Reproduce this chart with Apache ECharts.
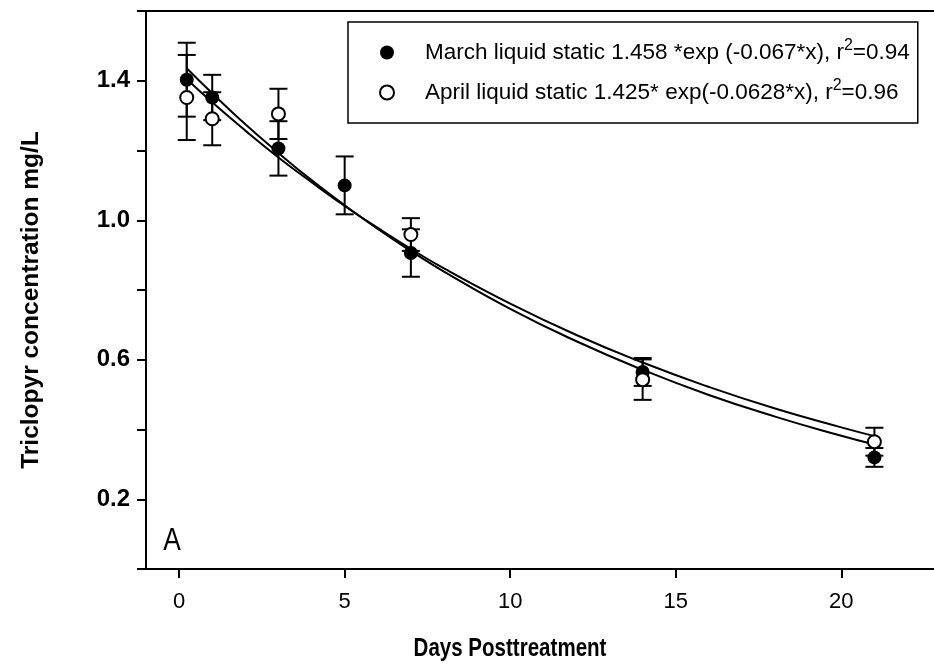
<!DOCTYPE html>
<html>
<head>
<meta charset="utf-8">
<script src="https://cdn.jsdelivr.net/npm/echarts@6/dist/echarts.min.js"></script>
<style>
  html, body { margin: 0; padding: 0; background: #fff; }
  #chart { width: 934px; height: 664px; }
</style>
</head>
<body>
<div id="chart"></div>
<script>
// ---- data ----
const marchDays = [0.23, 1, 3, 5, 7, 14, 21];
const marchConc = [1.403, 1.352, 1.206, 1.100, 0.906, 0.565, 0.320];
const marchErr  = [0.106, 0.065, 0.078, 0.083, 0.068, 0.040, 0.027];

const aprilDays = [0.23, 1, 3, 7, 14, 21];
const aprilConc = [1.352, 1.291, 1.305, 0.959, 0.543, 0.365];
const aprilErr  = [0.122, 0.076, 0.072, 0.047, 0.058, 0.040];

// fitted curves
const fitDays  = [0.23, 1, 2, 3, 4, 5, 6, 7, 8, 10, 12, 14, 16, 18, 20, 21];
const marchFit = [1.436, 1.364, 1.275, 1.193, 1.115, 1.043, 0.975, 0.912, 0.853, 0.746, 0.653, 0.571, 0.499, 0.437, 0.382, 0.357];
const aprilFit = [1.405, 1.338, 1.257, 1.180, 1.109, 1.041, 0.978, 0.918, 0.862, 0.761, 0.671, 0.592, 0.522, 0.460, 0.406, 0.381];

const xTicks = [0, 5, 10, 15, 20];
const yLabelTicks = [0.2, 0.6, 1.0, 1.4];

const marchName = 'March liquid static 1.458 *exp (-0.067*x), r2=0.94';
const aprilName = 'April liquid static 1.425* exp(-0.0628*x), r2=0.96';

const zip = (xs, ys, es) => xs.map((x, i) => es ? [x, ys[i], es[i]] : [x, ys[i]]);

function errRender(params, api) {
  const x = api.value(0), y = api.value(1), e = api.value(2);
  const top = api.coord([x, y + e]);
  const bot = api.coord([x, y - e]);
  const hw = 9;
  const st = { stroke: '#000', lineWidth: 2 };
  return {
    type: 'group',
    children: [
      { type: 'line', shape: { x1: top[0], y1: top[1], x2: bot[0], y2: bot[1] }, style: st },
      { type: 'line', shape: { x1: top[0] - hw, y1: top[1], x2: top[0] + hw, y2: top[1] }, style: st },
      { type: 'line', shape: { x1: bot[0] - hw, y1: bot[1], x2: bot[0] + hw, y2: bot[1] }, style: st }
    ]
  };
}

const legendFmt = (name) => {
  const idx = name.lastIndexOf('r2=');
  return '{g|}{t|' + name.slice(0, idx) + 'r}{s|2}{t|' + name.slice(idx + 2) + '}';
};

const chart = echarts.init(document.getElementById('chart'), null, { renderer: 'canvas' });
chart.setOption({
  animation: false,
  backgroundColor: '#fff',
  grid: { left: 146, right: 0, top: 11, bottom: 95 },
  legend: {
    orient: 'vertical',
    left: 348,
    top: 22,
    padding: [16, 8, 19, 31],
    itemGap: 14,
    itemWidth: 14,
    itemHeight: 14,
    borderColor: '#000',
    borderWidth: 1.5,
    data: [marchName, aprilName],
    formatter: legendFmt,
    textStyle: {
      color: '#000',
      rich: {
        g: { width: 26 },
        t: { fontFamily: 'Liberation Sans, Arial', fontSize: 22.5, color: '#000' },
        s: { fontFamily: 'Liberation Sans, Arial', fontSize: 16, color: '#000', padding: [0, 0, 13, 0] }
      }
    }
  },
  xAxis: [{
    type: 'value',
    min: -1,
    max: 22.8,
    axisLine: { show: true, onZero: false, lineStyle: { color: '#000', width: 2 } },
    splitLine: { show: false },
    axisTick: { show: true, customValues: xTicks, length: 9, inside: false, lineStyle: { color: '#000', width: 2 } },
    axisLabel: {
      customValues: xTicks,
      margin: 22,
      color: '#000',
      fontFamily: 'Liberation Sans, Arial',
      fontSize: 22
    }
  }, {
    type: 'value',
    position: 'top',
    min: -1,
    max: 22.8,
    axisLine: { show: true, onZero: false, lineStyle: { color: '#000', width: 2 } },
    axisTick: { show: false },
    axisLabel: { show: false },
    splitLine: { show: false }
  }],
  yAxis: {
    type: 'value',
    min: 0,
    max: 1.6,
    interval: 0.2,
    axisLine: { show: true, onZero: false, lineStyle: { color: '#000', width: 2 } },
    splitLine: { show: false },
    axisTick: { show: true, length: 9, lineStyle: { color: '#000', width: 2 } },
    axisLabel: {
      margin: 16,
      color: '#000',
      fontFamily: 'Liberation Sans, Arial',
      fontWeight: 'bold',
      fontSize: 24,
      formatter: (v) => yLabelTicks.some(t => Math.abs(t - v) < 1e-6) ? v.toFixed(1) : ''
    }
  },
  graphic: [
    {
      type: 'text',
      x: 31, y: 300,
      rotation: Math.PI / 2,
      style: {
        text: 'Triclopyr concentration mg/L',
        fill: '#000',
        font: 'bold 24.5px "Liberation Sans", Arial',
        textAlign: 'center',
        textVerticalAlign: 'middle'
      }
    },
    {
      type: 'text',
      x: 510, y: 649,
      scaleX: 0.79,
      style: {
        text: 'Days Posttreatment',
        fill: '#000',
        font: 'bold 26px "Liberation Sans", Arial',
        textAlign: 'center',
        textVerticalAlign: 'middle'
      }
    },
    {
      type: 'text',
      x: 172, y: 541,
      scaleX: 0.85,
      style: {
        text: 'A',
        fill: '#000',
        font: '31px "Liberation Sans", Arial',
        textAlign: 'center',
        textVerticalAlign: 'middle'
      }
    }
  ],
  series: [
    {
      name: 'marchErr', type: 'custom', z: 1, renderItem: errRender,
      data: zip(marchDays, marchConc, marchErr), silent: true
    },
    {
      name: 'aprilErr', type: 'custom', z: 1, renderItem: errRender,
      data: zip(aprilDays, aprilConc, aprilErr), silent: true
    },
    {
      name: 'marchFit', type: 'line', z: 2, smooth: true, showSymbol: false, symbol: 'none',
      lineStyle: { color: '#000', width: 2 },
      data: zip(fitDays, marchFit)
    },
    {
      name: 'aprilFit', type: 'line', z: 2, smooth: true, showSymbol: false, symbol: 'none',
      lineStyle: { color: '#000', width: 2 },
      data: zip(fitDays, aprilFit)
    },
    {
      name: marchName, type: 'scatter', z: 3, symbol: 'circle', symbolSize: 14,
      itemStyle: { color: '#000', borderColor: '#000', borderWidth: 0, opacity: 1 },
      data: zip(marchDays, marchConc)
    },
    {
      name: aprilName, type: 'scatter', z: 4, symbol: 'circle', symbolSize: 13,
      itemStyle: { color: '#fff', borderColor: '#000', borderWidth: 2, opacity: 1 },
      data: zip(aprilDays, aprilConc)
    }
  ]
});
</script>
</body>
</html>
